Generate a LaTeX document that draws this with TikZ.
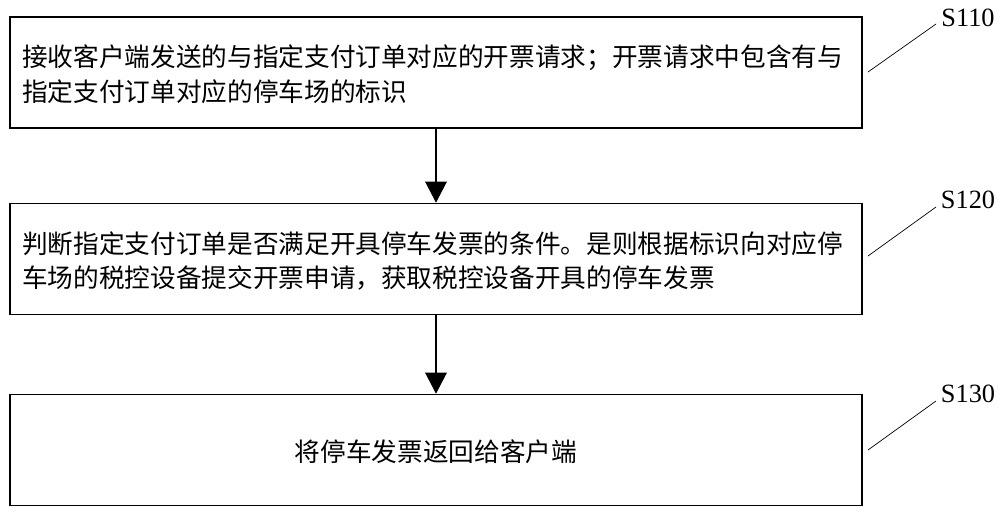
\documentclass[tikz,border=0pt]{standalone}
\usepackage{fontspec}
\newfontfamily\cjk{Noto Sans CJK SC}
\setmainfont{Liberation Serif}
\usetikzlibrary{positioning, arrows.meta}
\tikzset{
  stepbox/.style={draw, thick, minimum width=17.04cm, minimum height=2.22cm, inner sep=0pt},
  steptext/.style={align=left, font=\cjk\fontsize{14.6}{19.9}\selectfont},
  flow/.style={-{Triangle[length=12pt,width=12pt]}, line width=1.6pt},
  tag/.style={font=\fontsize{15}{18}\selectfont}
}
\begin{document}
\begin{tikzpicture}[x=0.02cm,y=-0.02cm]
  \useasboundingbox (0,0) rectangle (1000,513);
  % steps
  \node[stepbox] (s1) at (436,72.5) {};
  \node[steptext, anchor=west] at (16,74) {接收客户端发送的与指定支付订单对应的开票请求；开票请求中包含有与\\指定支付订单对应的停车场的标识};
  \node[stepbox] (s2) at (436,259) {};
  \node[steptext, anchor=west] at (16,261) {判断指定支付订单是否满足开具停车发票的条件。是则根据标识向对应停\\车场的税控设备提交开票申请，获取税控设备开具的停车发票};
  \node[stepbox] (s3) at (436,450) {};
  \node[steptext] at (436,452) {将停车发票返回给客户端};
  % arrows
  \draw[flow] (s1.south) -- (s2.north);
  \draw[flow] (s2.south) -- (s3.north);
  % labels
  \node[tag] (l1) at (968,18) {S110};
  \node[tag] (l2) at (968,200) {S120};
  \node[tag] (l3) at (968,394) {S130};
  \draw (868,72) -- (936,24);
  \draw (868,256) -- (936,207);
  \draw (868,450) -- (936,401);
\end{tikzpicture}
\end{document}
